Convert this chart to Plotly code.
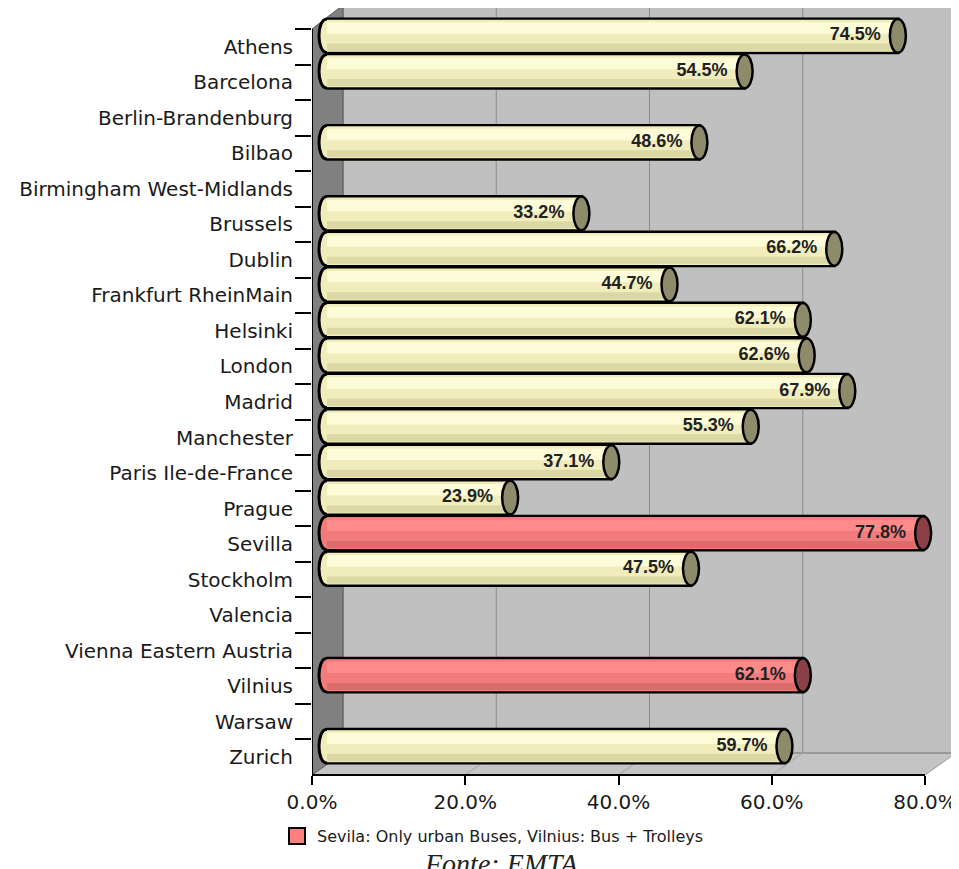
import plotly.graph_objects as go

# ---------------- data ----------------
cities = ["Athens", "Barcelona", "Berlin-Brandenburg", "Bilbao", "Birmingham West-Midlands",
          "Brussels", "Dublin", "Frankfurt RheinMain", "Helsinki", "London", "Madrid",
          "Manchester", "Paris Ile-de-France", "Prague", "Sevilla", "Stockholm", "Valencia",
          "Vienna Eastern Austria", "Vilnius", "Warsaw", "Zurich"]
share_pct = [74.5, 54.5, None, 48.6, None, 33.2, 66.2, 44.7, 62.1, 62.6, 67.9,
             55.3, 37.1, 23.9, 77.8, 47.5, None, None, 62.1, None, 59.7]
special_cities = ["Sevilla", "Vilnius"]
legend_label = "Sevila: Only urban Buses, Vilnius: Bus + Trolleys"
x_tick_values = [0.0, 0.2, 0.4, 0.6, 0.8]
x_tick_labels = ["0.0%", "20.0%", "40.0%", "60.0%", "80.0%"]
source_note = "Fonte: EMTA"

# ---------------- geometry (screen pixels, page has 8px body margin) ----------------
OFF = 8
W, H = 959 - OFF, 869 - OFF
L, R, T, B = 312 - OFF, 958 - OFF, 5 - OFF, 775 - OFF
FRONT_TOP = 29 - OFF
PX = 766.25            # pixels per unit (100%) on x
DX, DY = 31, 22        # 3D depth offset of back wall
BDX, BDY = 15, 11      # bars sit at mid depth
n = len(cities)
slot = (B - FRONT_TOP) / n

T_m = max(T, 0)
xmax = (R - L) / PX
ymain = [n - 0.5, n - 0.5 - (B - T_m) / slot]
shift = BDY / slot
ybar = [ymain[0] + shift, ymain[1] + shift]
xbar = [-BDX / PX, xmax - BDX / PX]
dxu = DX / PX


def ypap(py):
    return (B - py) / (B - T_m)


def xpap(px):
    return (px - L) / (R - L)


yF, yB = ypap(B), ypap(B - DY)
yFT, yBT = ypap(FRONT_TOP), ypap(T)

shapes = []
# floor
shapes.append(dict(type="path", xref="x", yref="paper", layer="below",
                   path=f"M 0,{yF} L {x_tick_values[-1]},{yF} L {x_tick_values[-1]+dxu},{yB} L {dxu},{yB} Z",
                   fillcolor="#c4c4c4", line=dict(color="#9a9a9a", width=1)))
# back wall
shapes.append(dict(type="rect", xref="x", yref="paper", layer="below",
                   x0=dxu, x1=x_tick_values[-1] + dxu, y0=yB, y1=yBT,
                   fillcolor="#c0c0c0", line=dict(color="#8e8e8e", width=1.5)))
# side wall
shapes.append(dict(type="path", xref="x", yref="paper", layer="below",
                   path=f"M 0,{yF} L {dxu},{yB} L {dxu},{yBT} L 0,{yFT} Z",
                   fillcolor="#808080", line=dict(color="#5a5a5a", width=1)))
# grid lines on back wall and floor
for t in x_tick_values[1:-1]:
    shapes.append(dict(type="line", xref="x", yref="paper", layer="below",
                       x0=t + dxu, x1=t + dxu, y0=yB, y1=yBT,
                       line=dict(color="#8c8c8c", width=1)))
    shapes.append(dict(type="line", xref="x", yref="paper", layer="below",
                       x0=t, x1=t + dxu, y0=yF, y1=yB,
                       line=dict(color="#a4a4a4", width=1)))
# front axes lines
shapes.append(dict(type="line", xref="x", yref="paper", layer="above",
                   x0=0, x1=x_tick_values[-1], y0=yF, y1=yF, line=dict(color="black", width=2)))
shapes.append(dict(type="line", xref="x", yref="paper", layer="above",
                   x0=0, x1=0, y0=yF, y1=yFT, line=dict(color="black", width=2)))

# ---------------- bars ----------------
styles = {
    False: dict(base="#f0ecbc", top="#fdfcd8", bottom="#dcd8a6", cap="#8e8b6a"),
    True: dict(base="#f27c7c", top="#ff8a8a", bottom="#da6c6c", cap="#8b4048"),
}
hw = 8 / PX
half = 0.475
idx = list(range(n))
values = [None if v is None else v / 100 for v in share_pct]
is_special = [c in special_cities for c in cities]

traces = []
# hidden trace registering categories on main y axis
traces.append(go.Scatter(x=[None] * n, y=cities, mode="markers", showlegend=False,
                         hoverinfo="skip", xaxis="x", yaxis="y"))

for flag in (False, True):
    st = styles[flag]
    vals = [v if (v is not None and s == flag) else None for v, s in zip(values, is_special)]
    for color, width, offset in ((st["base"], 0.9, -0.45), (st["top"], 0.32, -0.38),
                                 (st["bottom"], 0.2, 0.22)):
        traces.append(go.Bar(x=vals, y=idx, orientation="h", xaxis="x2", yaxis="y2",
                             width=width, offset=offset,
                             marker=dict(color=color, line=dict(width=0)),
                             showlegend=False, hoverinfo="skip"))

for i, (v, flag) in enumerate(zip(values, is_special)):
    if v is None:
        continue
    st = styles[flag]
    yt, yb = i - half, i + half
    c = 4 / 3 * hw
    shapes.append(dict(type="path", xref="x2", yref="y2", layer="below",
                       path=f"M {v},{yt} L 0,{yt} C {-c},{yt} {-c},{yb} 0,{yb} L {v},{yb} Z",
                       fillcolor=st["base"], line=dict(color="black", width=3)))
    shapes.append(dict(type="circle", xref="x2", yref="y2", layer="above",
                       x0=v - hw, x1=v + hw, y0=yt, y1=yb,
                       fillcolor=st["cap"], line=dict(color="black", width=2.5)))

# value labels
traces.append(go.Scatter(
    x=[None if v is None else v - 17 / PX for v in values], y=idx,
    mode="text", text=["" if v is None else f"{v:.1f}%" for v in share_pct],
    textposition="middle left",
    textfont=dict(family="Liberation Sans, Arial", size=18, color="#222222", weight="bold"),
    xaxis="x2", yaxis="y2", showlegend=False, hoverinfo="skip"))

# legend entry
traces.append(go.Scatter(x=[None], y=[None], mode="markers", name=legend_label,
                         marker=dict(symbol="square", size=16, color="#ff8080",
                                     line=dict(color="black", width=2)),
                         xaxis="x", yaxis="y", showlegend=True))

fig = go.Figure(traces)
tick_font = dict(family="DejaVu Sans", size=20, color="#1a1a1a")
fig.update_layout(
    width=W, height=H, margin=dict(l=L, r=W - R, t=T_m, b=H - B, pad=0),
    paper_bgcolor="white", plot_bgcolor="white", barmode="overlay",
    shapes=shapes,
    xaxis=dict(domain=[0, 1], range=[0, xmax], tickvals=x_tick_values, ticktext=x_tick_labels,
               ticks="outside", ticklen=9, tickwidth=2, tickcolor="black",
               showgrid=False, zeroline=False, showline=False, tickfont=tick_font, fixedrange=True),
    yaxis=dict(type="category", categoryorder="array", categoryarray=cities, range=ymain,
               ticks="outside", tickson="boundaries", ticklen=16, tickwidth=1.5, tickcolor="black",
               ticklabelstandoff=18,
               showgrid=False, zeroline=False, showline=False, tickfont=tick_font, fixedrange=True),
    xaxis2=dict(overlaying="x", anchor="y2", range=xbar, visible=False, fixedrange=True),
    yaxis2=dict(overlaying="y", anchor="x2", type="linear", range=ybar, visible=False, fixedrange=True),
    showlegend=True,
    legend=dict(x=xpap(277 - OFF), y=ypap(836 - OFF), xanchor="left", yanchor="middle",
                orientation="h", bgcolor="rgba(0,0,0,0)",
                font=dict(family="DejaVu Sans", size=16, color="#1a1a1a")),
    annotations=[dict(text=f"<i>{source_note}</i>", xref="paper", yref="paper",
                      x=xpap(501 - OFF), y=ypap(846 - OFF), xanchor="center", yanchor="top",
                      showarrow=False,
                      font=dict(family="Liberation Serif, Times New Roman", size=28, color="#222222"))],
)

fig.write_html("out.html")
